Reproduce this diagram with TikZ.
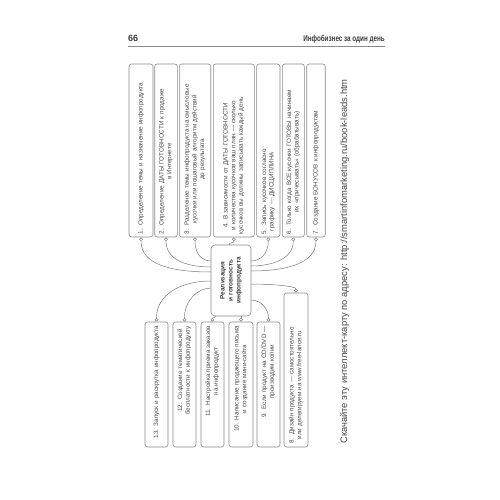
\documentclass[tikz,border=0pt]{standalone}
\usepackage{fontspec}
\usepackage{graphicx}
\setmainfont{Liberation Sans}
\definecolor{linegray}{HTML}{7A7A7A}
\definecolor{boxgray}{HTML}{8A8A8A}
\definecolor{txtgray}{HTML}{4A4A4A}
\definecolor{hdrgray}{HTML}{3A3A3A}
\newcommand\mmtab[1]{\begin{tabular}{@{}c@{}}#1\end{tabular}}
\newcommand\boxfont{\fontsize{6.3}{7.6}\selectfont}
\tikzset{
  conn/.style={draw=linegray, line width=0.5pt},
  dot/.style={circle, draw=linegray, fill=white, line width=0.45pt, inner sep=0pt, minimum size=3.2pt},
  mmbox/.style={draw=boxgray, rounded corners=2.5pt, line width=0.6pt, rotate=90, inner sep=0pt, font=\boxfont, text=txtgray},
  topbox/.style={mmbox, minimum width=173pt, text width=167pt, align=left},
  botbox/.style={mmbox, minimum width=125pt, text width=117pt, align=right},
  centerbox/.style={draw=boxgray, rounded corners=4pt, line width=0.6pt, rotate=90, inner sep=0pt, minimum width=71pt, minimum height=40pt, align=center, font=\bfseries\fontsize{6.4}{8}\selectfont, text=hdrgray}
}
\begin{document}
\begin{tikzpicture}[x=1pt,y=-1pt]
\fill[white] (0,0) rectangle (500,500);
\useasboundingbox (0,0) rectangle (500,500);

% header
\node[anchor=base west, inner sep=0pt, font=\bfseries\fontsize{9}{9}\selectfont, text=hdrgray] (pg) at (128,42) {66};
\node[anchor=base east, inner sep=0pt, font=\bfseries\fontsize{8.5}{9}\selectfont, text=hdrgray] (ttl) at (385,42) {\scalebox{0.74}[1]{Инфобизнес за один день}};
\draw[boxgray, line width=0.9pt] (128,46.5) -- (385,46.5);

% centre
\node[centerbox] (m) at (231,280.5) {Реализация\\и готовность\\инфопродукта};

% top boxes
\node[topbox, minimum height=24pt] (b1) at (141,150.5) {\mmtab{1. Определение темы и назначение инфопродукта}};
\node[topbox, minimum height=22.6pt] (b2) at (166,150.5) {\mmtab{2. Определение ДАТЫ ГОТОВНОСТИ к продаже\\в Интернете}};
\node[topbox, minimum height=31.4pt] (b3) at (195,150.5) {\mmtab{3. Разделение темы инфопродукта на смысловые\\кусочки или пошаговый алгоритм действий\\до результата}};
\node[topbox, minimum height=41pt] (b4) at (233.8,150.5) {\mmtab{4. В зависимости от ДАТЫ ГОТОВНОСТИ\\и количества кусочков ваш план — сколько\\кусочков вы должны записывать каждый день}};
\node[topbox, minimum height=23.3pt] (b5) at (268.3,150.5) {\mmtab{5. Запись кусочков согласно\\графику — ДИСЦИПЛИНА}};
\node[topbox, minimum height=22pt] (b6) at (293.3,150.5) {\mmtab{6. Только когда ВСЕ кусочки ГОТОВЫ начинаем\\их «причесывать» (обрабатывать)}};
\node[topbox, minimum height=18.5pt] (b7) at (316,150.5) {\mmtab{7. Создание БОНУСОВ к инфопродуктам}};

% bottom boxes
\node[botbox, minimum height=23pt] (b13) at (156.5,384.5) {\mmtab{13. Запуск и раскрутка инфопродукта}};
\node[botbox, minimum height=23pt] (b12) at (184.5,384.5) {\mmtab{12. Создание тематической\\бесплатности к инфопродукту}};
\node[botbox, minimum height=23pt] (b11) at (212.5,384.5) {\mmtab{11. Настройка приема заказов\\на инфопродукт}};
\node[botbox, minimum height=24pt] (b10) at (241,384.5) {\mmtab{10. Написание продающего письма\\и создание мини-сайта}};
\node[botbox, minimum height=23pt] (b9) at (268.5,384.5) {\mmtab{9. Если продукт на CD/DVD —\\производим копии}};
\node[mmbox, minimum width=154pt, text width=146pt, align=left, minimum height=24pt] (b8) at (296,370) {\mmtab{8. Дизайн продукта — самостоятельно\\или делегируем на www.free-lance.ru}};

% dots
\foreach \b in {b1,b2,b3,b4,b5,b6,b7}{
  \node[dot, anchor=north] (d\b) at ([yshift=-0.2pt]\b.west) {};
}
\foreach \b in {b13,b12,b11,b10,b9,b8}{
  \node[dot, anchor=south] (d\b) at ([yshift=0.2pt]\b.east) {};
}

% attachment points on the centre node
\coordinate (e1) at (211,272);
\coordinate (e2) at (211,267);
\coordinate (e3) at (211,261);
\coordinate (e4) at (229,245);
\coordinate (e5) at (251,261);
\coordinate (e6) at (251,266);
\coordinate (e7) at (251,271);
\coordinate (e13) at (211,281);
\coordinate (e12) at (211,288);
\coordinate (e11) at (216,316);
\coordinate (e10) at (241,316);
\coordinate (e9) at (251,300);
\coordinate (e8) at (251,284);

% connectors
\draw[conn] (db1.south) .. controls (141,264) and (170,272) .. (e1);
\draw[conn] (db2.south) .. controls (166,259) and (185,267) .. (e2);
\draw[conn] (db3.south) .. controls (195,254) and (202,261) .. (e3);
\draw[conn] (db4.south) .. controls (233.8,243.5) and (229,242) .. (e4);
\draw[conn] (db5.south) .. controls (268.3,254) and (260,261) .. (e5);
\draw[conn] (db6.south) .. controls (293.3,259) and (272,266) .. (e6);
\draw[conn] (db7.south) .. controls (316,264) and (285,271) .. (e7);
\draw[conn] (db13.north) .. controls (156.5,295) and (180,281) .. (e13);
\draw[conn] (db12.north) .. controls (184.5,300) and (198,288) .. (e12);
\draw[conn] (db11.north) .. controls (212.5,318) and (215,318) .. (e11);
\draw[conn] (db10.north) .. controls (241,318) and (241,318) .. (e10);
\draw[conn] (db9.north) .. controls (268.5,310) and (262,300) .. (e9);
\draw[conn] (db8.north) .. controls (296,286) and (270,284) .. (e8);

% footer
\node[rotate=90, inner sep=0pt, font=\fontsize{9.4}{10}\selectfont, text=txtgray] (dl) at (344.5,261.5) {Скачайте эту интеллект-карту по адресу: http://smartinfomarketing.ru/book-leads.htm};
\end{tikzpicture}
\end{document}
